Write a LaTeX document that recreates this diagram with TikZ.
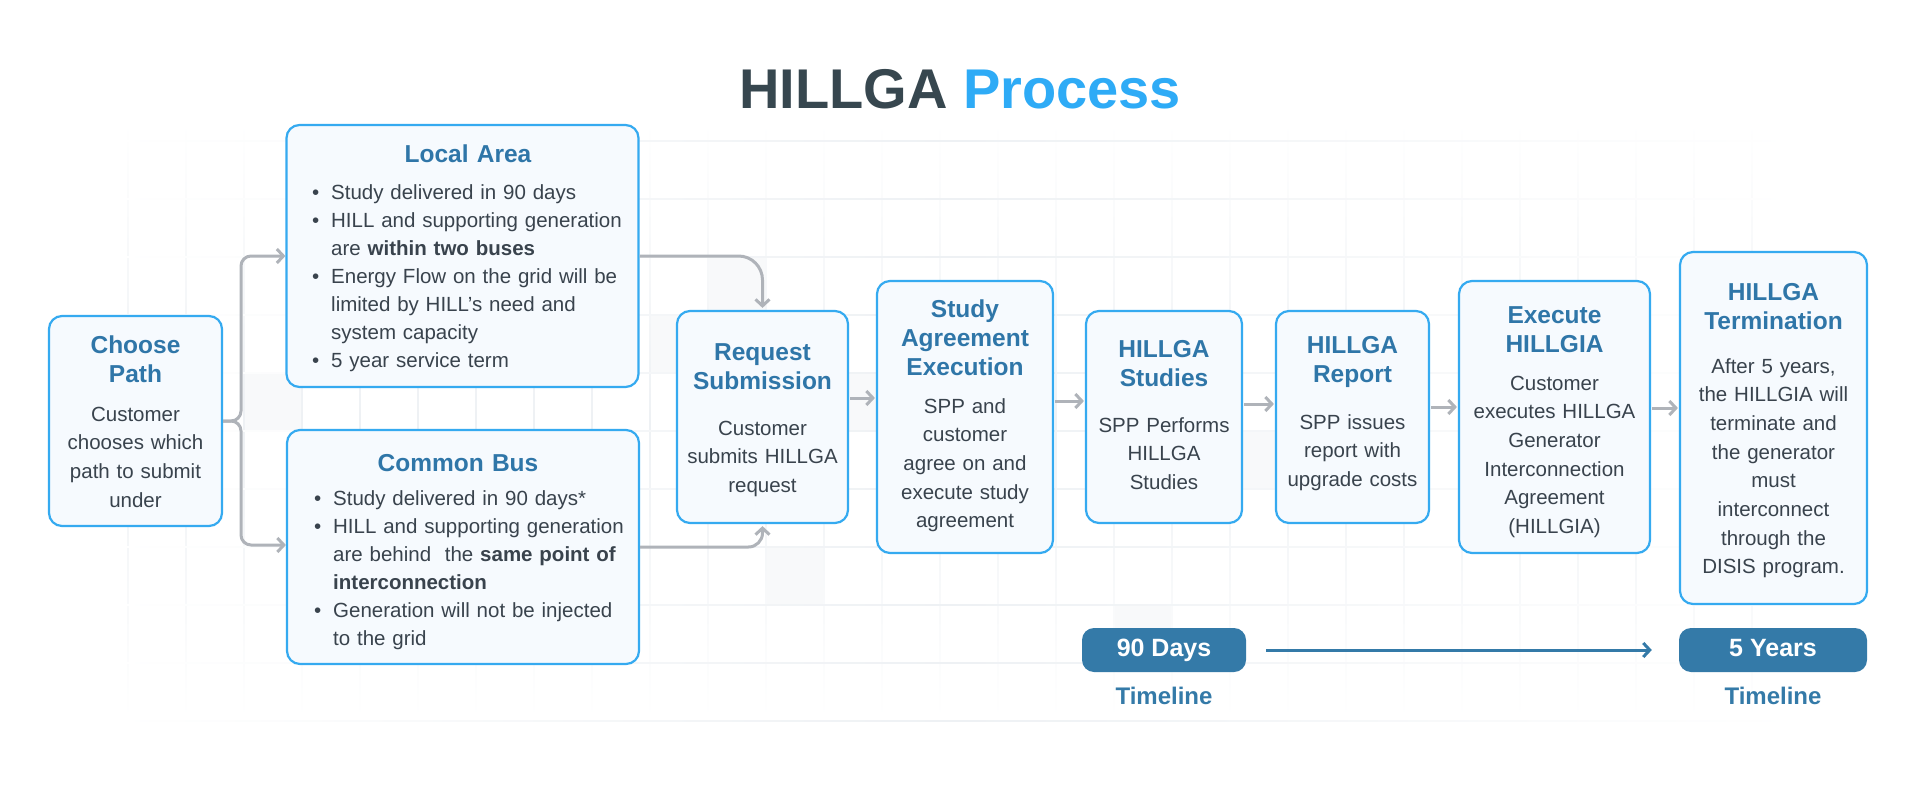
\documentclass[tikz,border=0pt]{standalone}
\usepackage{fontspec}
\setmainfont{Liberation Sans}
\usetikzlibrary{arrows.meta}
\definecolor{boxborder}{HTML}{35AAF0}
\definecolor{boxfill}{HTML}{F6FAFE}
\definecolor{headc}{HTML}{2F76A8}
\definecolor{bodyc}{HTML}{39434D}
\definecolor{connc}{HTML}{AFB3B9}
\definecolor{pillc}{HTML}{347AA8}
\definecolor{titledark}{HTML}{37474F}
\definecolor{titleblue}{HTML}{2EABF6}
\definecolor{gridc}{HTML}{EEF1F4}
\definecolor{cellc}{HTML}{F8F9FA}
\newcommand{\bitem}[1]{\hangindent=19pt\hangafter=1\noindent\makebox[19pt][l]{\textbullet}#1\par}
\tikzset{
  procbox/.style={draw=boxborder, fill=boxfill, line width=2.2pt, rounded corners=13pt, inner sep=0pt},
  headtxt/.style={font={\fontsize{24.5}{29}\selectfont\bfseries}, text=headc, align=center, inner sep=0pt, anchor=base},
  bodytxt/.style={font={\fontsize{20.5}{28.7}\selectfont}, text=bodyc, align=center, inner sep=0pt, anchor=base},
  bullettxt/.style={font={\fontsize{20.5}{28}\selectfont}, text=bodyc, align=left, inner sep=0pt, anchor=base west, text width=320pt},
  conn/.style={draw=connc, line width=3pt, -{Straight Barb[length=6.5pt,width=14pt]}},
  pill/.style={fill=pillc, rounded corners=12pt, inner sep=0pt, text=white, text height=18pt, text depth=5pt, font={\fontsize{25}{30}\selectfont\bfseries}},
  tltxt/.style={text=pillc, font={\fontsize{24}{28}\selectfont\bfseries}, anchor=base, inner sep=0pt},
}
\begin{document}
\begin{tikzpicture}[x=1pt, y=-1pt]
\useasboundingbox (0,0) rectangle (1920,800);
\fill[white] (0,0) rectangle (1920,800);
% faint background cells and grid
\fill[cellc] (708,257) rectangle (766,315);
\fill[cellc] (824,373) rectangle (882,431);
\fill[cellc] (650,315) rectangle (708,373);
\fill[cellc] (1230,431) rectangle (1346,489);
\fill[cellc] (766,547) rectangle (824,605);
\fill[cellc] (244,373) rectangle (302,431);
\fill[cellc] (1114,605) rectangle (1172,663);
\foreach \k in {2,...,30} {
  \pgfmathsetmacro\gx{12+58*\k}
  \shade[top color=white, bottom color=white, middle color=gridc] (\gx-0.6,120) rectangle (\gx+0.6,720);
}
\foreach \k in {2,...,12} {
  \pgfmathsetmacro\gy{25+58*\k}
  \shade[left color=white, right color=white, middle color=gridc] (110,\gy-0.6) rectangle (1800,\gy+0.6);
}

% title
\node[anchor=base, inner sep=0pt, font={\fontsize{56}{60}\selectfont\bfseries}] (title) at (960,108)
  {\textcolor{titledark}{HILLGA} \textcolor{titleblue}{Process}};

% boxes
\node[procbox, minimum width=173pt, minimum height=210pt] (cp) at (135.5,421) {};
\node[procbox, minimum width=352pt, minimum height=262pt] (la) at (462.5,256) {};
\node[procbox, minimum width=352pt, minimum height=234pt] (cb) at (463,547) {};
\node[procbox, minimum width=171pt, minimum height=212pt] (rs) at (762.5,417) {};
\node[procbox, minimum width=176pt, minimum height=272pt] (sae) at (965,417) {};
\node[procbox, minimum width=156pt, minimum height=212pt] (hs) at (1164,417) {};
\node[procbox, minimum width=153pt, minimum height=212pt] (hr) at (1352.5,417) {};
\node[procbox, minimum width=191pt, minimum height=272pt] (eh) at (1554.5,417) {};
\node[procbox, minimum width=187pt, minimum height=352pt] (ht) at (1773.5,428) {};

% Choose Path
\node[headtxt, text width=169pt] (cph) at (135.5,353) {Choose\\Path};
\node[bodytxt, text width=169pt] (cpb) at (135.5,421) {Customer\\chooses which\\path to submit\\under};

% Local Area
\node[headtxt, text width=300pt] (lah) at (468,162) {Local Area};
\node[bullettxt] (lab) at (312,199) {%
\bitem{Study delivered in 90 days}%
\bitem{HILL and supporting generation\newline are \textbf{within two buses}}%
\bitem{Energy Flow on the grid will be\newline limited by HILL’s need and\newline system capacity}%
\bitem{5 year service term}};

% Common Bus
\node[headtxt, text width=300pt] (cbh) at (458,471) {Common Bus};
\node[bullettxt] (cbb) at (314,505) {%
\bitem{Study delivered in 90 days*}%
\bitem{HILL and supporting generation\newline are behind\ \ the \textbf{same point of}\newline \textbf{interconnection}}%
\bitem{Generation will not be injected\newline to the grid}};

% Request Submission
\node[headtxt, text width=167pt] (rsh) at (762.5,360) {Request\\Submission};
\node[bodytxt, text width=167pt] (rsb) at (762.5,435) {Customer\\submits HILLGA\\request};

% Study Agreement Execution
\node[headtxt, text width=172pt] (saeh) at (965,317) {Study\\Agreement\\Execution};
\node[bodytxt, text width=172pt] (saeb) at (965,413) {SPP and\\customer\\agree on and\\execute study\\agreement};

% HILLGA Studies
\node[headtxt, text width=152pt] (hsh) at (1164,357) {HILLGA\\Studies};
\node[bodytxt, text width=152pt] (hsb) at (1164,432) {SPP Performs\\HILLGA\\Studies};

% HILLGA Report
\node[headtxt, text width=149pt] (hrh) at (1352.5,353) {HILLGA\\Report};
\node[bodytxt, text width=149pt] (hrb) at (1352.5,429) {SPP issues\\report with\\upgrade costs};

% Execute HILLGIA
\node[headtxt, text width=187pt] (ehh) at (1554.5,323) {Execute\\HILLGIA};
\node[bodytxt, text width=187pt] (ehb) at (1554.5,390) {Customer\\executes HILLGA\\Generator\\Interconnection\\Agreement\\(HILLGIA)};

% HILLGA Termination
\node[headtxt, text width=183pt] (hth) at (1773.5,300) {HILLGA\\Termination};
\node[bodytxt, text width=183pt] (htb) at (1773.5,373) {After 5 years,\\the HILLGIA will\\terminate and\\the generator\\must\\interconnect\\through the\\DISIS program.};

% connectors
\draw[conn, rounded corners=10pt] (cp.east |- 0,421) -- (241,421) |- (la.west |- 0,256);
\draw[conn, rounded corners=10pt] (cp.east |- 0,421) -- (241,421) |- (cb.west |- 0,545);
\draw[conn, rounded corners=24pt, shorten >=2pt] (la.east |- 0,256) -| (rs.north);
\draw[conn, rounded corners=14pt, shorten >=2pt] (cb.east |- 0,547) -| (rs.south);
\draw[conn, shorten <=1pt, shorten >=1pt] (rs.east |- 0,398) -- (sae.west |- 0,398);
\draw[conn, shorten <=1pt, shorten >=1pt] (sae.east |- 0,401) -- (hs.west |- 0,401);
\draw[conn, shorten <=1pt, shorten >=1pt] (hs.east |- 0,404) -- (hr.west |- 0,404);
\draw[conn, shorten <=1pt, shorten >=1pt] (hr.east |- 0,407) -- (eh.west |- 0,407);
\draw[conn, shorten <=1pt, shorten >=1pt] (eh.east |- 0,408) -- (ht.west |- 0,408);

% timeline
\node[pill, minimum width=164pt, minimum height=44pt] (p90) at (1164,650) {90 Days};
\node[pill, minimum width=188pt, minimum height=44pt] (p5) at (1773,650) {5 Years};
\node[tltxt] (tl1) at (1164,704) {Timeline};
\node[tltxt] (tl2) at (1773,704) {Timeline};
\draw[draw=pillc, line width=3pt, -{Straight Barb[length=6.5pt,width=14pt]}, shorten <=20pt, shorten >=27pt] (p90.east) -- (p5.west);
\end{tikzpicture}
\end{document}
